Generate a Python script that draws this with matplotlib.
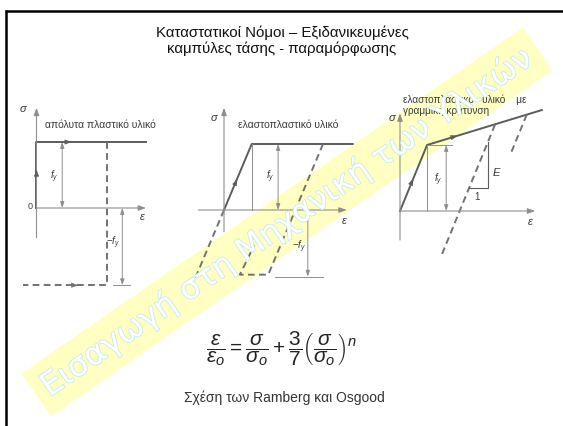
import matplotlib.pyplot as plt
import matplotlib.patheffects as pe

# ---- diagram data (strain in units of the yield strain, stress in units of f_y) ----

# rigid - perfectly plastic material
p1_sig_axis = [-0.45, 1.52]
p1_eps_axis = [0.0, 1.66]
p1_load_eps = [0.0, 0.0, 1.66]
p1_load_sig = [0.0, 1.0, 1.0]
p1_unload_eps = [1.07, 1.07, -0.2]
p1_unload_sig = [1.0, -1.17, -1.17]
p1_fy_at = 0.39
p1_mfy_at = 1.30
p1_mfy_tick = [1.16, 1.42]

# elastic - perfectly plastic material
p2_sig_axis = [-0.33, 1.55]
p2_eps_axis = [-0.39, 1.86]
p2_load_eps = [0.0, 0.42, 1.95]
p2_load_sig = [0.0, 1.0, 1.0]
p2_back_eps = [0.0, -0.46]
p2_back_sig = [0.0, -1.09]
p2_unload_eps = [1.50, 0.67, 0.24, 0.46]
p2_unload_sig = [1.0, -0.98, -0.98, -0.53]
p2_yield_eps = 0.42
p2_fy_at = 0.82
p2_mfy_at = 1.27
p2_mfy_tick = [0.77, 1.50]

# elastic - linear hardening material
p3_sig_axis = [-0.44, 1.48]
p3_eps_axis = [0.0, 2.05]
p3_load_eps = [0.0, 0.41, 2.15]
p3_load_sig = [0.0, 1.0, 1.53]
p3_unload1_eps = [1.44, 0.63]
p3_unload1_sig = [1.31, -0.67]
p3_unload2_eps = [1.92, 1.67]
p3_unload2_sig = [1.46, 0.85]
p3_yield_eps = 0.41
p3_fy_tick = [0.41, 0.79]
p3_fy_at = 0.70
p3_tri_eps = [1.05, 1.33, 1.33]
p3_tri_sig = [0.35, 0.35, 1.04]

title_lines = ['Καταστατικοί Νόμοι – Εξιδανικευμένες', 'καμπύλες τάσης - παραμόρφωσης']
panel_titles = ['απόλυτα πλαστικό υλικό', 'ελαστοπλαστικό υλικό',
                'ελαστοπλαστικό   υλικό    με', 'γραμμική κράτυνση']
formula = (r'$\dfrac{\varepsilon}{\varepsilon_o} = \dfrac{\sigma}{\sigma_o}'
           r' + \dfrac{3}{7}\left(\dfrac{\sigma}{\sigma_o}\right)^n$')
caption = 'Σχέση των Ramberg και Osgood'
watermark = 'Εισαγωγή στη Μηχανική των Υλικών'

plt.rcParams['font.family'] = ['Liberation Sans', 'DejaVu Sans']
plt.rcParams['mathtext.fontset'] = 'custom'
plt.rcParams['mathtext.rm'] = 'Liberation Sans'
plt.rcParams['mathtext.it'] = 'Liberation Sans:italic'
plt.rcParams['mathtext.bf'] = 'Liberation Sans:bold'

W, H = 563, 426
fig = plt.figure(figsize=(W / 100, H / 100), dpi=100)
fig.patch.set_facecolor('white')

DARK = '#5c5c5c'
THIN = '#8e8e8e'
DASH = '#727272'
TXT = '#3a3a3a'

page = fig.add_axes([0, 0, 1, 1])
page.set_xlim(0, W)
page.set_ylim(H, 0)
page.axis('off')

# slide frame
page.plot([4.5, W], [10.5, 10.5], color='black', lw=1.8, solid_capstyle='butt')
page.plot([5.8, 5.8], [9.6, H], color='black', lw=1.8, solid_capstyle='butt')

page.text(282, 33, title_lines[0], ha='center', va='center', fontsize=10.8, color='#111111')
page.text(282, 49, title_lines[1], ha='center', va='center', fontsize=10.8, color='#111111')
page.text(281, 349, formula, ha='center', va='center', fontsize=15, color='#222222')
page.text(284, 398, caption, ha='center', va='center', fontsize=10, color='#333333')


def panel_axes(origin, scale, xlim=(-0.6, 2.3), ylim=(-1.5, 1.9)):
    x0 = origin[0] + xlim[0] * scale
    x1 = origin[0] + xlim[1] * scale
    ytop = origin[1] - ylim[1] * scale
    ybot = origin[1] - ylim[0] * scale
    ax = fig.add_axes([x0 / W, 1 - ybot / H, (x1 - x0) / W, (ybot - ytop) / H])
    ax.set_xlim(xlim)
    ax.set_ylim(ylim)
    ax.axis('off')
    ax.patch.set_visible(False)
    return ax


def axes_arrows(ax, eps_axis, sig_axis):
    st = dict(arrowstyle='-|>,head_length=0.45,head_width=0.16', color=THIN, lw=0.8,
              shrinkA=0, shrinkB=0)
    ax.annotate('', xy=(eps_axis[1], 0), xytext=(eps_axis[0], 0), arrowprops=st)
    ax.annotate('', xy=(0, sig_axis[1]), xytext=(0, sig_axis[0]), arrowprops=st)


def dimension(ax, eps, s0, s1):
    ax.annotate('', xy=(eps, s1), xytext=(eps, s0),
                arrowprops=dict(arrowstyle='<|-|>,head_length=0.35,head_width=0.12',
                                color=THIN, lw=0.7, shrinkA=0, shrinkB=0))


def direction(ax, eps, sig, deps, dsig, color=DARK):
    ax.annotate('', xy=(eps + deps, sig + dsig), xytext=(eps, sig),
                arrowprops=dict(arrowstyle='-|>,head_length=0.4,head_width=0.15',
                                color=color, lw=0.5, shrinkA=0, shrinkB=0))


dash_style = (0, (3.5, 2.2))

# --- panel 1 ---
ax1 = panel_axes((36.5, 208), 66)
axes_arrows(ax1, p1_eps_axis, p1_sig_axis)
ax1.plot(p1_load_eps, p1_load_sig, color=DARK, lw=1.4)
ax1.plot(p1_unload_eps, p1_unload_sig, color=DASH, lw=1.4, ls=dash_style)
dimension(ax1, p1_fy_at, 0, 1)
dimension(ax1, p1_mfy_at, 0, p1_unload_sig[-1])
ax1.plot(p1_mfy_tick, [p1_unload_sig[-1]] * 2, color=THIN, lw=0.7)
direction(ax1, 0, 0.5, 0, 0.08)
direction(ax1, 0.45, 1, 0.08, 0)
direction(ax1, 0.55, p1_unload_sig[-1], 0.08, 0, DASH)
ax1.text(-0.2, 1.5, r'$\sigma$', fontsize=8, color=TXT, ha='center', va='center')
ax1.text(-0.06, 0.02, '0', fontsize=6.5, color=TXT, ha='right', va='center')
ax1.text(1.6, -0.14, r'$\varepsilon$', fontsize=8, color=TXT, ha='center', va='center')
ax1.text(p1_fy_at - 0.06, 0.47, r'$f_y$', fontsize=7, color=TXT, ha='right', va='center')
ax1.text(p1_mfy_at - 0.04, -0.52, r'$-f_y$', fontsize=7, color=TXT, ha='right', va='center')
ax1.text(0.13, 1.26, panel_titles[0], fontsize=7.5, color=TXT, ha='left', va='center')

# --- panel 2 ---
ax2 = panel_axes((224, 210), 66)
axes_arrows(ax2, p2_eps_axis, p2_sig_axis)
ax2.plot(p2_load_eps, p2_load_sig, color=DARK, lw=1.4)
ax2.plot(p2_back_eps, p2_back_sig, color=DASH, lw=1.4, ls=dash_style)
ax2.plot(p2_unload_eps, p2_unload_sig, color=DASH, lw=1.4, ls=dash_style)
ax2.plot([p2_yield_eps] * 2, [0, 1], color=THIN, lw=0.7)
dimension(ax2, p2_fy_at, 0, 1)
dimension(ax2, p2_mfy_at, 0, p2_unload_sig[1] - 0.03)
ax2.plot(p2_mfy_tick, [p2_unload_sig[1] - 0.03] * 2, color=THIN, lw=0.7)
direction(ax2, 0.17, 0.4, 0.03, 0.07)
ax2.text(-0.14, 1.39, r'$\sigma$', fontsize=8, color=TXT, ha='center', va='center')
ax2.text(1.83, -0.17, r'$\varepsilon$', fontsize=8, color=TXT, ha='center', va='center')
ax2.text(p2_fy_at - 0.05, 0.5, r'$f_y$', fontsize=7, color=TXT, ha='right', va='center')
ax2.text(p2_mfy_at - 0.03, -0.56, r'$-f_y$', fontsize=7, color=TXT, ha='right', va='center')
ax2.text(0.21, 1.29, panel_titles[1], fontsize=7.5, color=TXT, ha='left', va='center')

# --- panel 3 ---
ax3 = panel_axes((400, 211), 66)
axes_arrows(ax3, p3_eps_axis, p3_sig_axis)
ax3.plot(p3_load_eps, p3_load_sig, color=DARK, lw=1.4)
ax3.plot(p3_unload1_eps, p3_unload1_sig, color=DASH, lw=1.4, ls=dash_style)
ax3.plot(p3_unload2_eps, p3_unload2_sig, color=DASH, lw=1.4, ls=dash_style)
ax3.plot([p3_yield_eps] * 2, [0, 1], color=THIN, lw=0.7)
ax3.plot(p3_fy_tick, [1, 1], color=THIN, lw=0.7)
ax3.plot(p3_tri_eps, p3_tri_sig, color=DARK, lw=0.8)
dimension(ax3, p3_fy_at, 0, 1)
direction(ax3, 0.17, 0.42, 0.03, 0.07)
direction(ax3, 0.8, 1.12, 0.07, 0.02)
ax3.text(-0.12, 1.41, r'$\sigma$', fontsize=8, color=TXT, ha='center', va='center')
ax3.text(1.98, -0.17, r'$\varepsilon$', fontsize=8, color=TXT, ha='center', va='center')
ax3.text(p3_fy_at - 0.05, 0.47, r'$f_y$', fontsize=7, color=TXT, ha='right', va='center')
ax3.text(1.39, 0.59, r'$E$', fontsize=8, color=TXT, ha='left', va='center')
ax3.text(1.17, 0.21, '1', fontsize=7, color=TXT, ha='center', va='center')
ax3.text(0.05, 1.68, panel_titles[2], fontsize=7.2, color=TXT, ha='left', va='center')
ax3.text(0.05, 1.52, panel_titles[3], fontsize=7.2, color=TXT, ha='left', va='center')

# --- watermark: yellow band under the drawings, outlined letters on top ---
wm_x, wm_y, wm_rot, wm_size = 287 / W, 1 - 222 / H, 34.6, 23
wm_font = ['DejaVu Sans']
fig.text(wm_x, wm_y, watermark, rotation=wm_rot, rotation_mode='anchor',
         ha='center', va='center', fontsize=wm_size, family=wm_font, color='none',
         zorder=-1, bbox=dict(boxstyle='square,pad=0.3', fc='#ffffc2', ec='none'))
fig.text(wm_x, wm_y, watermark, rotation=wm_rot, rotation_mode='anchor',
         ha='center', va='center', fontsize=wm_size, family=wm_font, color='white',
         zorder=5, path_effects=[pe.withStroke(linewidth=1.2, foreground='#c6e9f1')])

fig.savefig('out.png', dpi=100)
